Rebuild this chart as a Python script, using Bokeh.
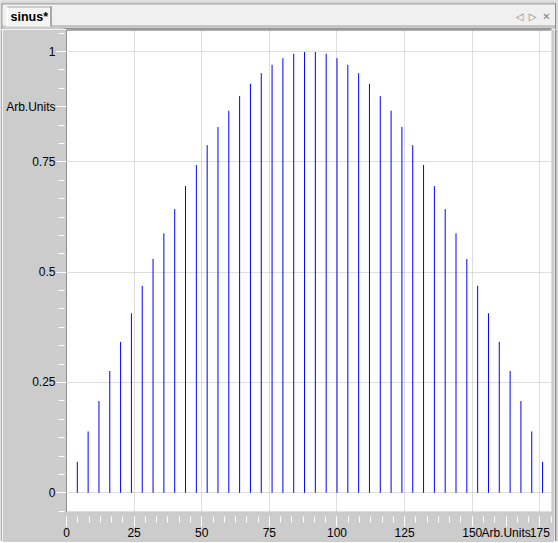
from bokeh.plotting import figure
from bokeh.layouts import column, row
from bokeh.models import Range1d, FixedTicker, Span, ColumnDataSource
from bokeh.embed import file_html
from bokeh.resources import INLINE
from bokeh.core.properties import value

# ---------------- data ----------------
x_vals = [4, 8, 12, 16, 20, 24, 28, 32, 36, 40, 44, 48, 52, 56, 60, 64, 68, 72,
          76, 80, 84, 88, 92, 96, 100, 104, 108, 112, 116, 120, 124, 128, 132,
          136, 140, 144, 148, 152, 156, 160, 164, 168, 172, 176]
y_vals = [0.070, 0.139, 0.208, 0.276, 0.342, 0.407, 0.469, 0.530, 0.588, 0.643,
          0.695, 0.743, 0.788, 0.829, 0.866, 0.899, 0.927, 0.951, 0.970, 0.985,
          0.995, 0.999, 0.999, 0.995, 0.985, 0.970, 0.951, 0.927, 0.899, 0.866,
          0.829, 0.788, 0.743, 0.695, 0.643, 0.588, 0.530, 0.469, 0.407, 0.342,
          0.276, 0.208, 0.139, 0.070]
x_major_ticks = [0, 25, 50, 75, 100, 125, 150, 175]
x_tick_labels = ["0", "25", "50", "75", "100", "125", "150", "175"]
y_major_ticks = [0, 0.25, 0.5, 0.75, 1]
y_tick_labels = ["0", "0.25", "0.5", "0.75", "1"]
x_axis_title = "Arb.Units"
x_title_at = 162.5
y_axis_title = "Arb.Units"
y_title_at = 0.875
tab_title = "sinus*"
tab_icons = ["\u25c1", "\u25b7", "\u2715"]

# ---------------- geometry ----------------
W, H = 558, 543
TOP_H = 29          # tab strip height
BOT_H = 2           # bottom window edge
LEFT_W = 2          # left window edge
RIGHT_W = 4         # right window edge
MAIN_W = W - LEFT_W - RIGHT_W
MAIN_H = H - TOP_H - BOT_H
FL, FW, FH = 64, 485, 482
XMIN, XMAX = 0.0, 179.3
YMIN, YMAX = -0.0424, 1.05

FONT = "Liberation Sans"
PANEL = "#cccccc"
EDGE_DARK = "#8c8c8c"
EDGE_LIGHT = "#dadada"


def chrome(w, h):
    f = figure(width=w, height=h, x_range=Range1d(0, w),
               y_range=Range1d(h, 0), output_backend="svg",
               toolbar_location=None, x_axis_location=None,
               y_axis_location=None, min_border=0, outline_line_color=None,
               background_fill_color=PANEL, border_fill_color=PANEL)
    f.grid.visible = False
    f.frame_align = False
    return f


def band(f, l, r, t, b, c):
    f.quad(left=l, right=r, top=t, bottom=b, fill_color=c, line_color=None)


# ---------------- tab strip ----------------
top = chrome(W, TOP_H)
band(top, 0, W, 0, 3, EDGE_LIGHT)
band(top, 0, 1, 0, TOP_H, EDGE_LIGHT)
band(top, 555.5, W, 0, TOP_H, EDGE_LIGHT)
band(top, 1, 555.5, 3, 4, EDGE_DARK)
band(top, 1, 2, 3, TOP_H, EDGE_DARK)
band(top, 554.5, 555.5, 3, TOP_H, EDGE_DARK)
band(top, 2, 554.5, 4, 25, "#f0f0f0")
band(top, 51, 554.5, 25, 26, "#b4b4b4")
band(top, 6, 50.5, 6, 26, "#f4f4f4")
band(top, 6, 50.5, 6, 7, "#a8a8a8")
band(top, 6, 7, 6, 26, "#ffffff")
band(top, 50, 51, 6, 26, "#606060")
band(top, 63, 551, 28, 29, "#606060")
top.text(x=[10], y=[16.5], text=[tab_title], text_font=value(FONT),
         text_font_style="bold", text_font_size="12.5px",
         text_baseline="middle", text_align="left", text_color="black")
top.text(x=[519, 532, 546], y=[16, 16, 16], text=tab_icons,
         text_font=value("DejaVu Sans"), text_font_size="10px",
         text_baseline="middle", text_align="center", text_color="#808080")

# ---------------- window edges ----------------
left_edge = chrome(LEFT_W, MAIN_H)
band(left_edge, 0, 1, 0, MAIN_H, EDGE_LIGHT)
band(left_edge, 1, 2, 0, MAIN_H, EDGE_DARK)

right_edge = chrome(RIGHT_W, MAIN_H)
band(right_edge, 0.5, 2, 0, MAIN_H, EDGE_DARK)
band(right_edge, 2, RIGHT_W, 0, MAIN_H, EDGE_LIGHT)

bottom_edge = chrome(W, BOT_H)
band(bottom_edge, 0, W, 1, 2, EDGE_LIGHT)
band(bottom_edge, 0, 1, 0, 1, EDGE_LIGHT)
band(bottom_edge, 1, 555.5, 0, 1, EDGE_DARK)
band(bottom_edge, 555.5, W, 0, 1, EDGE_LIGHT)

# ---------------- main plot ----------------
p = figure(frame_width=FW, frame_height=FH,
           x_range=Range1d(XMIN, XMAX), y_range=Range1d(YMIN, YMAX),
           output_backend="svg", toolbar_location=None,
           min_border_left=FL, min_border_top=0,
           min_border_right=MAIN_W - FL - FW, min_border_bottom=MAIN_H - FH,
           background_fill_color="white", border_fill_color=PANEL,
           outline_line_color="#dddddd")
p.frame_align = False

# grid
p.xgrid.ticker = FixedTicker(ticks=x_major_ticks)
p.ygrid.ticker = FixedTicker(ticks=y_major_ticks)
for g in (p.xgrid, p.ygrid):
    g.grid_line_color = "#bdbdbd"
    g.grid_line_dash = "1 1"

# stems
src = ColumnDataSource(dict(x=x_vals, y0=[0] * len(x_vals), y1=y_vals))
p.segment(x0="x", y0="y0", x1="x", y1="y1", source=src,
          line_color="#0000ff", line_width=1)

# x axis (axis title sits on a tick position, as in the reference)
xa = p.xaxis[0]
xa.ticker = FixedTicker(ticks=x_major_ticks + [x_title_at],
                        minor_ticks=[i * 25 / 6 for i in range(44)])
xa.major_label_overrides = dict(zip(x_major_ticks + [x_title_at],
                                    x_tick_labels + [x_axis_title]))
xa.axis_line_color = None
xa.major_tick_in = -5
xa.major_tick_out = 15
xa.minor_tick_in = -5
xa.minor_tick_out = 11
xa.major_tick_line_color = "#ffffff"
xa.minor_tick_line_color = "#ffffff"
xa.major_label_standoff = -1
xa.major_label_text_font = FONT
xa.major_label_text_font_size = "12px"
xa.major_label_text_color = "black"

# y axis
ya = p.yaxis[0]
ya.ticker = FixedTicker(ticks=y_major_ticks + [y_title_at],
                        minor_ticks=[k / 24 for k in range(-1, 26)])
ya.major_label_overrides = dict(zip(y_major_ticks + [y_title_at],
                                    y_tick_labels + [y_axis_title]))
ya.axis_line_color = "#404040"
ya.axis_line_dash = "1 1"
ya.major_tick_in = 0
ya.major_tick_out = 10
ya.minor_tick_in = -2
ya.minor_tick_out = 8
ya.major_tick_line_color = "#ffffff"
ya.minor_tick_line_color = "#ffffff"
ya.major_label_standoff = 1
ya.major_label_text_font = FONT
ya.major_label_text_font_size = "12px"
ya.major_label_text_color = "black"

# dark top border of the plot area
p.add_layout(Span(location=YMAX, dimension="width", line_color="#606060",
                  line_width=2))

page = column(top, row(left_edge, p, right_edge, spacing=0), bottom_edge,
              spacing=0)
open("out.html", "w").write(file_html(page, INLINE))
